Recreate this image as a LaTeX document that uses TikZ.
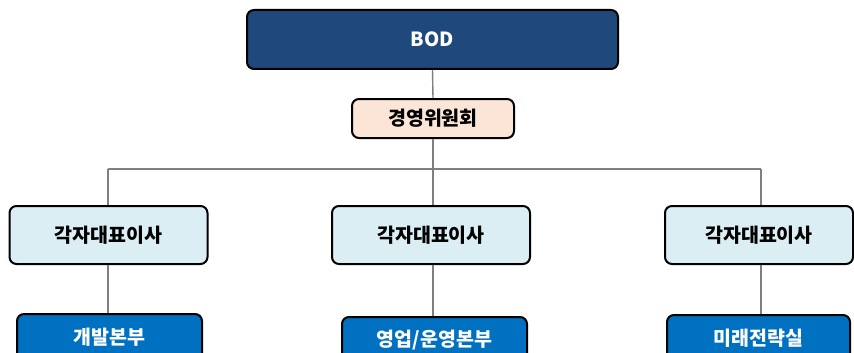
\documentclass[tikz,border=0pt]{standalone}
\usepackage{fontspec}
\setmainfont{Noto Sans CJK KR}
\definecolor{navy}{HTML}{1F497D}
\definecolor{peach}{HTML}{FBE5D6}
\definecolor{lblue}{HTML}{DAEEF3}
\definecolor{mblue}{HTML}{0070C0}
\definecolor{conn}{HTML}{7F7F7F}
\begin{document}
\begin{tikzpicture}[x=1pt,y=-1pt,
  box/.style={draw=black,line width=2pt,rounded corners=7pt,inner sep=0pt,font=\fontsize{19.5}{22}\selectfont\bfseries},
  topbox/.style={box,fill=navy,text=white,minimum width=371pt,minimum height=59pt},
  cmtbox/.style={box,fill=peach,text=black,minimum width=162pt,minimum height=39pt},
  ceobox/.style={box,fill=lblue,text=black,minimum width=198pt,minimum height=58pt},
  divbox/.style={box,fill=mblue,text=white,minimum width=185pt,minimum height=46pt},
  link/.style={draw=conn,line width=1.4pt}]
\useasboundingbox (0,0) rectangle (854,353);
\clip (0,0) rectangle (854,353);
\node[topbox] (bod) at (432.5,39.5) {BOD};
\node[cmtbox] (cmt) at (433,118.5) {경영위원회};
\node[ceobox] (c1) at (108.5,235) {각자대표이사};
\node[ceobox] (c2) at (431,235) {각자대표이사};
\node[ceobox,minimum width=188pt] (c3) at (759,235) {각자대표이사};
\coordinate (hub) at (433,169);
\coordinate (x1) at (108,169);
\coordinate (x3) at (761,169);
\draw[link] (bod.south) -- (cmt.north);
\draw[link] (cmt.south) -- (hub);
\draw[link] (x1) -- (x3);
\draw[link] (x1) -- (x1 |- c1.north);
\draw[link] (hub) -- (hub |- c2.north);
\draw[link] (x3) -- (x3 |- c3.north);
\node[divbox] (d1) at (109.5,337) {개발본부};
\node[divbox] (d2) at (434.5,340) {영업/운영본부};
\node[divbox,minimum width=183pt] (d3) at (758.5,338) {미래전략실};
\draw[link] (x1 |- c1.south) -- (x1 |- d1.north);
\draw[link] (hub |- c2.south) -- (hub |- d2.north);
\draw[link] (x3 |- c3.south) -- (x3 |- d3.north);
\end{tikzpicture}
\end{document}
